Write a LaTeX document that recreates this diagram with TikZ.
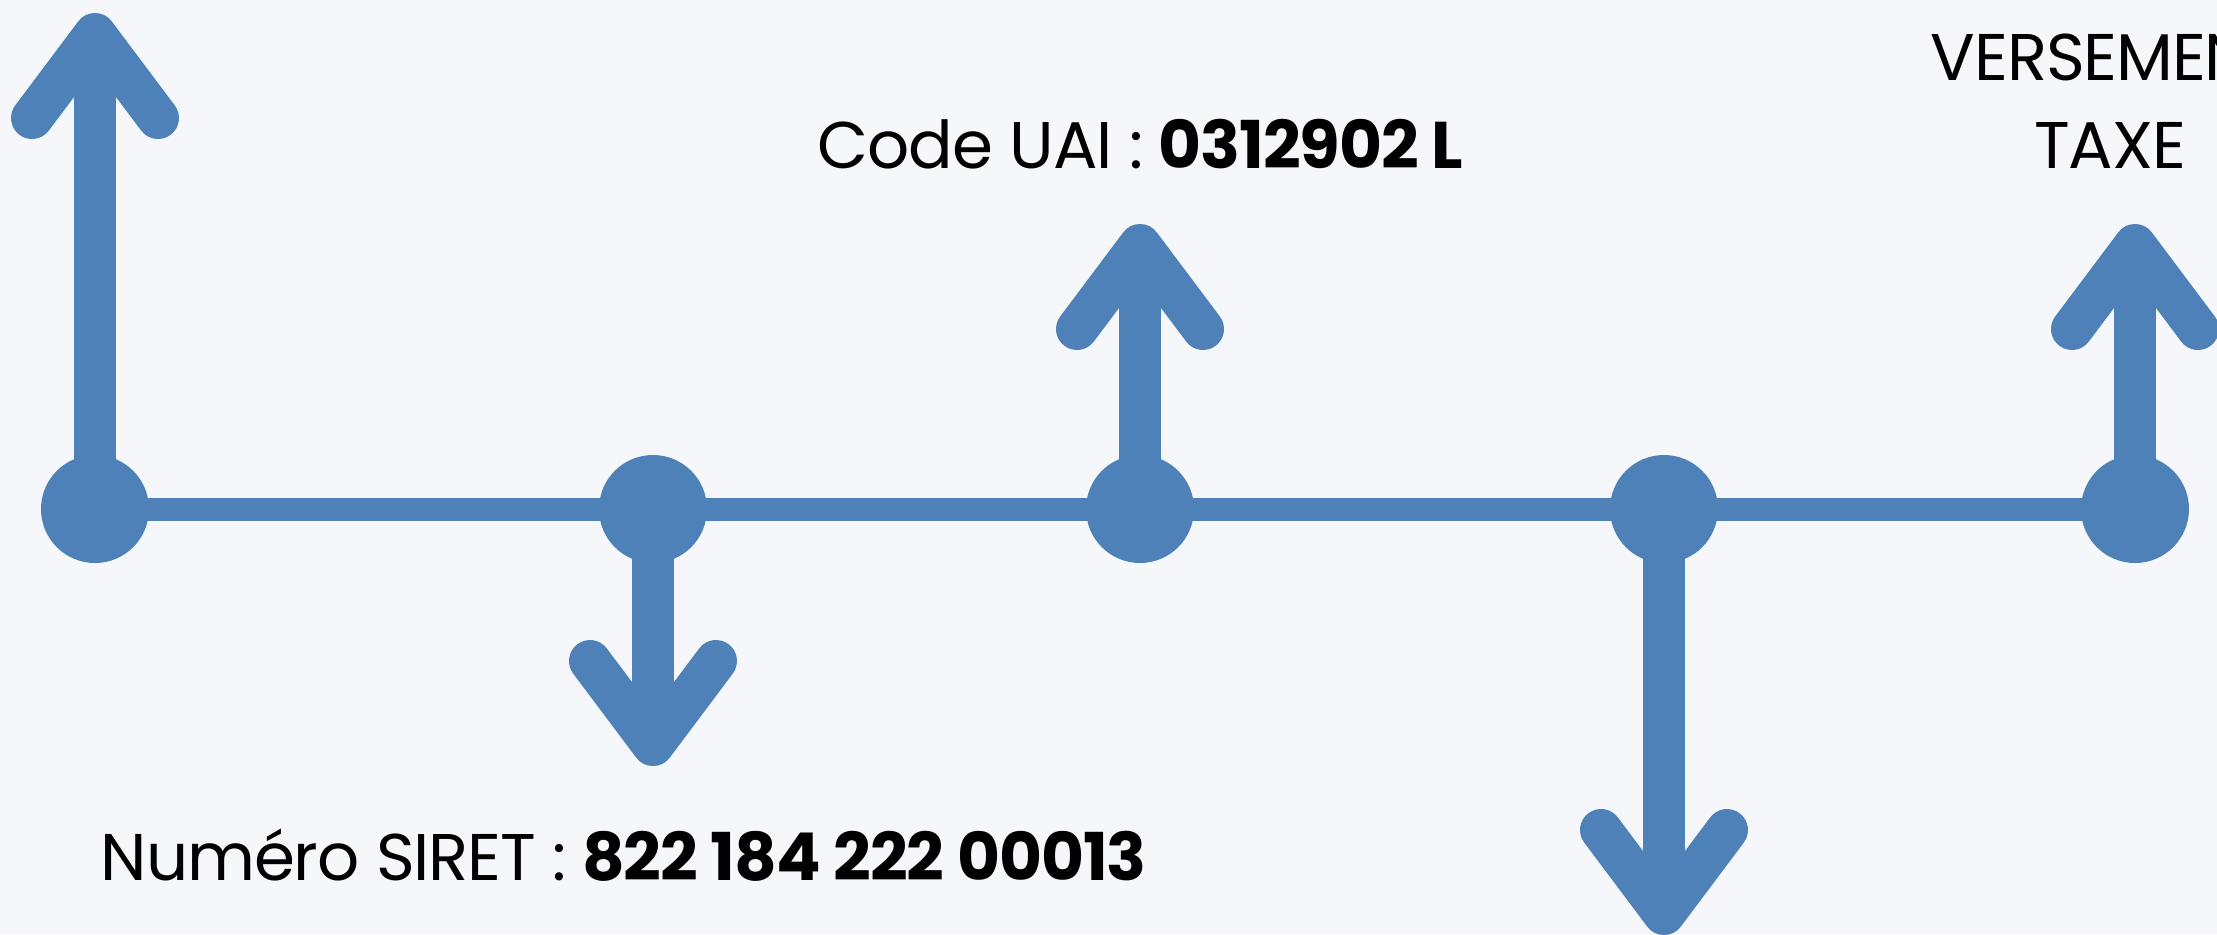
\documentclass[tikz,border=0pt]{standalone}
\usepackage{fontspec}
\setmainfont{Poppins}[LetterSpace=-1.7]
\definecolor{bgcol}{RGB}{245,247,250}
\definecolor{tlblue}{RGB}{79,129,185}
\begin{document}
\begin{tikzpicture}[x=0.25pt,y=-0.25pt,
  dot/.style={circle,fill=tlblue,minimum size=27pt,inner sep=0pt,outer sep=0pt},
  axisline/.style={draw=tlblue,line width=5.75pt},
  shaft/.style={draw=tlblue,line width=10.5pt},
  chevron/.style={draw=tlblue,line width=10.5pt,line cap=round,line join=round},
  lbl/.style={font=\fontsize{16.5pt}{22pt}\selectfont,text=black,inner sep=0pt}]
\useasboundingbox (0,0) rectangle (2217,934);
\clip (0,0) rectangle (2217,934);
\fill[bgcol] (0,0) rectangle (2217,934);
% timeline dots
\node[dot] (c1) at (95,509) {};
\node[dot] (c2) at (653,509) {};
\node[dot] (c3) at (1140,509) {};
\node[dot] (c4) at (1664,509) {};
\node[dot] (c5) at (2135,509) {};
\draw[axisline] (c1.center) -- (c2.center) -- (c3.center) -- (c4.center) -- (c5.center);
% arrow tips
\coordinate (t1) at (95,34);
\coordinate (t2) at (653,745);
\coordinate (t3) at (1140,245);
\coordinate (t4) at (1664,914);
\coordinate (t5) at (2135,245);
\draw[shaft] (c1.center) -- (t1);
\draw[shaft] (c2.center) -- (t2);
\draw[shaft] (c3.center) -- (t3);
\draw[shaft] (c4.center) -- (t4);
\draw[shaft] (c5.center) -- (t5);
\draw[chevron] ([shift={(-63,84)}]t1) -- (t1) -- ([shift={(63,84)}]t1);
\draw[chevron] ([shift={(-63,-84)}]t2) -- (t2) -- ([shift={(63,-84)}]t2);
\draw[chevron] ([shift={(-63,84)}]t3) -- (t3) -- ([shift={(63,84)}]t3);
\draw[chevron] ([shift={(-63,-84)}]t4) -- (t4) -- ([shift={(63,-84)}]t4);
\draw[chevron] ([shift={(-63,84)}]t5) -- (t5) -- ([shift={(63,84)}]t5);
% labels
\node[lbl,anchor=base] (uai) at (1140,168) {Code UAI : \textbf{0312902 L}};
\node[lbl,anchor=base west] (siret) at (100,880) {Numéro SIRET : \textbf{822 184 222 00013}};
\node[lbl,anchor=base west] (vers) at (1930,80) {VERSEMENT};
\node[lbl,anchor=base] (taxe) at (2110,168) {TAXE};
\end{tikzpicture}
\end{document}
